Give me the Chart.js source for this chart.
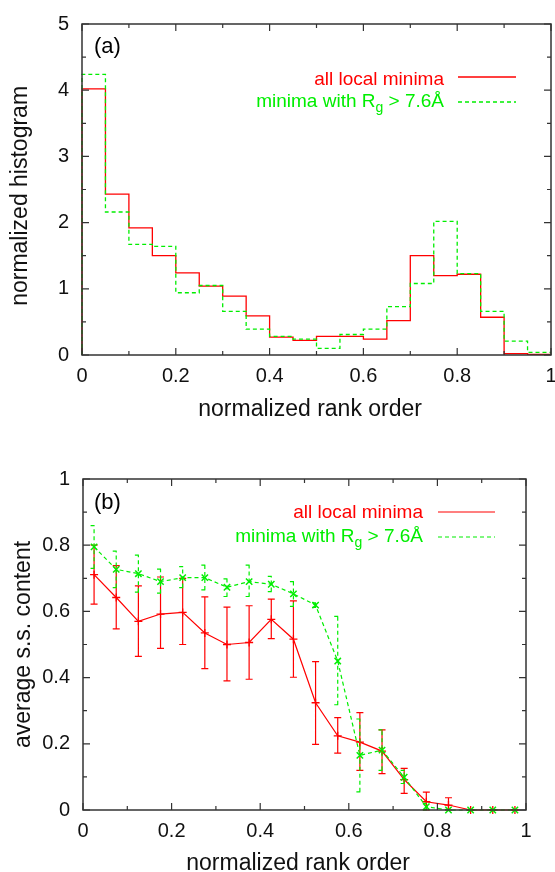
<!DOCTYPE html>
<html>
<head>
<meta charset="utf-8">
<title>rank order histograms</title>
<script src="https://cdn.jsdelivr.net/npm/chart.js@4.4.1/dist/chart.umd.min.js"></script>
<style>
    body { margin: 0; background: #fff; }
    .panel { position: absolute; left: 0; width: 555px; height: 436px; }
</style>
</head>
<body>
<div class="panel" style="top:0"><canvas id="hist_chart"></canvas></div>
<div class="panel" style="top:436px"><canvas id="ss_chart"></canvas></div>
<script>
//---- data ----

//(a) histogram, bins of width 0.05
var bin_edges = [0, 0.05, 0.1, 0.15, 0.2, 0.25, 0.3, 0.35, 0.4, 0.45, 0.5,
    0.55, 0.6, 0.65, 0.7, 0.75, 0.8, 0.85, 0.9, 0.95, 1];
var hist_all = [4.02, 2.43, 1.92, 1.50, 1.24, 1.04, 0.89, 0.59, 0.27, 0.22,
    0.28, 0.28, 0.24, 0.52, 1.50, 1.20, 1.22, 0.57, 0.02, 0.01];
var hist_rg = [4.24, 2.16, 1.67, 1.64, 0.94, 1.05, 0.66, 0.39, 0.28, 0.24,
    0.10, 0.31, 0.39, 0.73, 1.08, 2.02, 1.23, 0.66, 0.21, 0.04];

//(b) average s.s. content per bin centre, with error bar ends
var bin_centres = [0.025, 0.075, 0.125, 0.175, 0.225, 0.275, 0.325, 0.375, 0.425, 0.475,
    0.525, 0.575, 0.625, 0.675, 0.725, 0.775, 0.825, 0.875, 0.925, 0.975];
var ss_all = [0.711, 0.642, 0.570, 0.592, 0.597, 0.535, 0.500, 0.506, 0.576, 0.516,
    0.324, 0.224, 0.205, 0.178, 0.092, 0.025, 0.015, 0, 0, 0];
var ss_all_lo = [0.622, 0.547, 0.464, 0.488, 0.500, 0.427, 0.390, 0.395, 0.518, 0.401,
    0.198, 0.172, 0.120, 0.110, 0.050, 0, 0, 0, 0, 0];
var ss_all_hi = [0.800, 0.738, 0.677, 0.704, 0.700, 0.644, 0.613, 0.617, 0.637, 0.632,
    0.448, 0.279, 0.294, 0.242, 0.126, 0.054, 0.037, 0, 0, 0];
var ss_rg = [0.795, 0.727, 0.714, 0.690, 0.702, 0.702, 0.673, 0.690, 0.682, 0.653,
    0.619, 0.450, 0.165, 0.181, 0.099, 0.010, 0, 0, 0, 0];
var ss_rg_lo = [0.730, 0.672, 0.658, 0.655, 0.672, 0.665, 0.645, 0.645, 0.660, 0.615,
    0.612, 0.318, 0.055, 0.120, 0.080, 0, 0, 0, 0, 0];
var ss_rg_hi = [0.859, 0.782, 0.770, 0.728, 0.735, 0.740, 0.698, 0.740, 0.706, 0.690,
    0.626, 0.585, 0.275, 0.242, 0.120, 0.020, 0, 0, 0, 0];

//tick values
var rank_ticks = [0, 0.2, 0.4, 0.6, 0.8, 1];
var hist_ticks = [0, 1, 2, 3, 4, 5];
var ss_ticks = [0, 0.2, 0.4, 0.6, 0.8, 1];

//legend text, second one has R with subscript g
var legend_all = [{t: 'all local minima'}];
var legend_rg = [{t: 'minima with R'}, {t: 'g', sub: true}, {t: ' > 7.6\u00c5'}];


Chart.defaults.font.family = "'Liberation Sans', Arial, Helvetica, sans-serif";
Chart.defaults.color = '#000';
Chart.defaults.animation = false;

var RED = '#ff0000';
var GREEN = '#00ee00';


//build step points for a histogram outline
function step_points(values) {
    var pts = [{x: bin_edges[0], y: 0}];
    for (var i = 0; i < values.length; i++) {
        pts.push({x: bin_edges[i], y: values[i]});
    }
    pts.push({x: bin_edges[values.length], y: values[values.length - 1]});
    return pts;
}

function xy_points(xs, ys) {
    return xs.map(function (x, i) { return {x: x, y: ys[i]}; });
}

function tick_text(value) {
    if (Number.isInteger(value)) return String(value);
    return value.toFixed(1);
}

//force the axes to a fixed size so the frame sits where the figure has it
function fix_x(height) {
    return function (scale) {
        scale.height = height;
        scale.paddingLeft = 0;
        scale.paddingRight = 0;
    };
}
function fix_y(width) {
    return function (scale) {
        scale.width = width;
        scale.paddingTop = 0;
        scale.paddingBottom = 0;
    };
}
function use_ticks(values) {
    return function (scale) {
        scale.ticks = values.map(function (v) { return {value: v}; });
    };
}


//frame with gnuplot style inward ticks (major + minor half way)
var frame = {
    id: 'frame',
    afterDraw: function (chart) {
        var ctx = chart.ctx, a = chart.chartArea;
        var xs = chart.scales.x, ys = chart.scales.y;
        ctx.save();
        ctx.strokeStyle = '#333';
        ctx.lineWidth = 1.2;
        ctx.beginPath();
        var xv = xs.ticks.map(function (t) { return t.value; });
        var yv = ys.ticks.map(function (t) { return t.value; });
        for (var i = 0; i < xv.length; i++) {
            var px = xs.getPixelForValue(xv[i]);
            ctx.moveTo(px, a.bottom); ctx.lineTo(px, a.bottom - 7);
            ctx.moveTo(px, a.top); ctx.lineTo(px, a.top + 7);
            if (i < xv.length - 1) {
                var mx = xs.getPixelForValue((xv[i] + xv[i + 1]) / 2);
                ctx.moveTo(mx, a.bottom); ctx.lineTo(mx, a.bottom - 4);
                ctx.moveTo(mx, a.top); ctx.lineTo(mx, a.top + 4);
            }
        }
        for (var j = 0; j < yv.length; j++) {
            var py = ys.getPixelForValue(yv[j]);
            ctx.moveTo(a.left, py); ctx.lineTo(a.left + 7, py);
            ctx.moveTo(a.right, py); ctx.lineTo(a.right - 7, py);
            if (j < yv.length - 1) {
                var my = ys.getPixelForValue((yv[j] + yv[j + 1]) / 2);
                ctx.moveTo(a.left, my); ctx.lineTo(a.left + 4, my);
                ctx.moveTo(a.right, my); ctx.lineTo(a.right - 4, my);
            }
        }
        ctx.stroke();
        ctx.lineWidth = 1.5;
        ctx.strokeRect(a.left, a.top, a.right - a.left, a.bottom - a.top);
        ctx.restore();
    }
};

//panel letter + legend inside the plot (text on the left, line sample on the right)
var key = {
    id: 'key',
    afterDraw: function (chart, args, opts) {
        var ctx = chart.ctx;
        ctx.save();
        ctx.fillStyle = '#000';
        ctx.font = "22px 'Liberation Sans', Arial, sans-serif";
        ctx.textBaseline = 'middle';
        ctx.textAlign = 'left';
        ctx.fillText(opts.panel, opts.panel_x, opts.panel_y);

        ctx.textBaseline = 'alphabetic';
        var big = "19px 'Liberation Sans', Arial, sans-serif";
        var small = "14px 'Liberation Sans', Arial, sans-serif";
        for (var i = 0; i < opts.entries.length; i++) {
            var ds = chart.data.datasets[i];
            var parts = opts.entries[i];
            var width = 0;
            parts.forEach(function (p) {
                ctx.font = p.sub ? small : big;
                width += ctx.measureText(p.t).width;
            });
            var x = opts.text_right - width;
            ctx.fillStyle = ds.borderColor;
            parts.forEach(function (p) {
                ctx.font = p.sub ? small : big;
                ctx.fillText(p.t, x, opts.baselines[i] + (p.sub ? 5 : 0));
                x += ctx.measureText(p.t).width;
            });
            ctx.strokeStyle = ds.borderColor;
            ctx.lineWidth = ds.borderWidth;
            ctx.setLineDash(ds.borderDash || []);
            ctx.beginPath();
            ctx.moveTo(opts.line_from, opts.line_ys[i]);
            ctx.lineTo(opts.line_to, opts.line_ys[i]);
            ctx.stroke();
            ctx.setLineDash([]);
        }
        ctx.restore();
    }
};

//vertical error bars with small caps, drawn right after their own dataset
var error_bars = {
    id: 'error_bars',
    afterDatasetDraw: function (chart, args) {
        var ds = chart.data.datasets[args.index];
        if (!ds.err_lo) return;
        var ctx = chart.ctx, xs = chart.scales.x, ys = chart.scales.y;
        ctx.save();
        ctx.strokeStyle = ds.borderColor;
        ctx.lineWidth = 1.2;
        ctx.setLineDash(ds.borderDash || []);
        ctx.beginPath();
        for (var i = 0; i < ds.data.length; i++) {
            if (ds.err_hi[i] - ds.err_lo[i] < 0.004) continue;
            var px = xs.getPixelForValue(ds.data[i].x);
            var lo = ys.getPixelForValue(ds.err_lo[i]);
            var hi = ys.getPixelForValue(ds.err_hi[i]);
            ctx.moveTo(px, lo); ctx.lineTo(px, hi);
            ctx.moveTo(px - 3.5, lo); ctx.lineTo(px + 3.5, lo);
            ctx.moveTo(px - 3.5, hi); ctx.lineTo(px + 3.5, hi);
        }
        ctx.stroke();
        ctx.restore();
    }
};


function axis_options(ticks, fmt, title, fixer, title_pad, tick_pad) {
    return {
        type: 'linear',
        min: ticks[0],
        max: ticks[ticks.length - 1],
        afterBuildTicks: use_ticks(ticks),
        afterFit: fixer,
        grid: { display: false, drawTicks: false },
        border: { display: false },
        ticks: { callback: fmt, padding: tick_pad, font: { size: 20 }, color: '#111', maxRotation: 0, autoSkip: false },
        title: { display: true, text: title, font: { size: 23 }, color: '#111', padding: title_pad }
    };
}


//---- (a) normalized histogram ----
new Chart(document.getElementById('hist_chart'), {
    type: 'line',
    data: {
        datasets: [{
            label: 'all local minima',
            data: step_points(hist_all),
            borderColor: RED,
            borderWidth: 1.3,
            stepped: true,
            pointRadius: 0,
            order: 2,
            clip: 4
        }, {
            label: 'minima with Rg > 7.6\u00c5',
            data: step_points(hist_rg),
            borderColor: GREEN,
            borderWidth: 1.3,
            borderDash: [4, 3],
            stepped: true,
            pointRadius: 0,
            order: 1,
            clip: 4
        }]
    },
    options: {
        responsive: true,
        maintainAspectRatio: false,
        layout: { padding: { top: 24, right: 4, left: 0, bottom: 0 } },
        plugins: {
            legend: { display: false },
            tooltip: { enabled: false },
            key: {
                panel: '(a)', panel_x: 94, panel_y: 47,
                entries: [legend_all, legend_rg],
                text_right: 444, line_from: 458, line_to: 516,
                baselines: [85, 107], line_ys: [77, 102]
            }
        },
        scales: {
            x: axis_options(rank_ticks, tick_text, 'normalized rank order  ', fix_x(81), { bottom: 13 }, 9),
            y: axis_options(hist_ticks, tick_text, 'normalized histogram  ', fix_y(82), { top: 7 }, 13)
        }
    },
    plugins: [frame, key]
});


//---- (b) average secondary structure content ----
new Chart(document.getElementById('ss_chart'), {
    type: 'line',
    data: {
        datasets: [{
            label: 'all local minima',
            data: xy_points(bin_centres, ss_all),
            err_lo: ss_all_lo,
            err_hi: ss_all_hi,
            borderColor: RED,
            backgroundColor: RED,
            borderWidth: 1.2,
            pointStyle: 'cross',
            pointRadius: 4,
            pointBorderWidth: 1.3,
            order: 2,
            clip: 8
        }, {
            label: 'minima with Rg > 7.6\u00c5',
            data: xy_points(bin_centres, ss_rg),
            err_lo: ss_rg_lo,
            err_hi: ss_rg_hi,
            borderColor: GREEN,
            backgroundColor: GREEN,
            borderWidth: 1.2,
            borderDash: [4, 3],
            pointStyle: 'crossRot',
            pointRadius: 4.5,
            pointBorderWidth: 1.5,
            order: 1,
            clip: 8
        }]
    },
    options: {
        responsive: true,
        maintainAspectRatio: false,
        layout: { padding: { top: 43, right: 29, left: 0, bottom: 0 } },
        plugins: {
            legend: { display: false },
            tooltip: { enabled: false },
            key: {
                panel: '(b)', panel_x: 94, panel_y: 67,
                entries: [legend_all, legend_rg],
                text_right: 423, line_from: 438, line_to: 495,
                baselines: [82, 106], line_ys: [76, 101]
            }
        },
        scales: {
            x: axis_options(rank_ticks, tick_text, 'normalized rank order  ', fix_x(62), { bottom: -5 }, 9),
            y: axis_options(ss_ticks, tick_text, 'average s.s. content', fix_y(83), { top: 10 }, 13)
        }
    },
    plugins: [frame, key, error_bars]
});
</script>
</body>
</html>
